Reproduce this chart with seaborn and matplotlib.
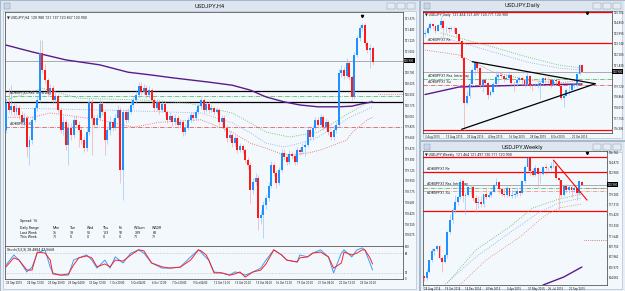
import numpy as np
import matplotlib
matplotlib.use("Agg")
import matplotlib.pyplot as plt
import matplotlib.transforms as mtransforms
from matplotlib.patches import Rectangle
import seaborn as sns

sns.set_style("white")
plt.rcParams["font.family"] = ["Roboto", "DejaVu Sans"]

W, H = 625, 291

# ---------------------------------------------------------------- H4 data
h4_first_open = 119.77
h4_close = [
    120.21, 120.10, 120.16, 120.07, 120.13, 120.02, 119.90, 119.97, 119.50, 119.61,
    119.94, 120.13, 120.26, 121.02, 120.75, 120.58, 120.39, 120.45, 120.26, 120.32,
    120.10, 119.77, 119.90, 119.53, 119.81, 119.69, 119.94, 119.86, 119.77, 119.61,
    119.48, 119.74, 120.23, 119.97, 119.86, 119.97, 120.20, 120.07, 119.61, 119.77,
    119.90, 119.81, 119.97, 120.10, 119.13, 120.07, 119.94, 120.07, 120.18, 120.26,
    120.34, 120.49, 120.39, 120.45, 120.34, 120.42, 120.26, 120.13, 120.23, 120.10,
    120.20, 120.07, 119.94, 120.00, 119.90, 119.97, 119.86, 119.90, 119.74, 119.81,
    119.94, 120.02, 119.97, 120.07, 120.16, 120.26, 120.10, 120.20, 120.10, 120.13,
    120.07, 120.10, 119.90, 119.97, 119.81, 119.64, 119.69, 119.56, 119.64, 119.45,
    119.51, 119.45, 119.29, 119.21, 118.80, 118.93, 119.00, 118.35, 118.40, 118.56,
    118.67, 118.87, 119.21, 119.08, 118.92, 119.13, 119.40, 119.34, 119.26, 119.39,
    119.35, 119.26, 119.45, 119.42, 119.50, 119.53, 119.77, 119.66, 119.81, 119.94,
    119.86, 119.98, 119.82, 119.90, 119.74, 119.66, 119.77, 119.86, 120.70, 120.75,
    120.65, 120.86, 120.63, 120.31, 120.99, 121.26, 121.43, 121.48, 121.18, 121.07,
    121.10, 120.88]
h4_high = [
    120.30, 120.45, 120.50, 120.22, 120.20, 120.18, 120.08, 120.05, 120.01, 119.68,
    120.00, 120.18, 120.32, 121.23, 121.23, 120.85, 120.62, 120.52, 120.50, 120.40,
    120.36, 120.14, 120.00, 119.95, 119.88, 119.88, 120.00, 120.02, 119.92, 119.82,
    119.66, 119.80, 120.30, 120.27, 120.02, 120.03, 120.28, 120.25, 120.10, 119.83,
    120.00, 119.95, 120.03, 120.18, 120.15, 120.12, 120.12, 120.13, 120.24, 120.31,
    120.40, 120.56, 120.55, 120.52, 120.50, 120.48, 120.46, 120.30, 120.28, 120.27,
    120.26, 120.24, 120.10, 120.06, 120.04, 120.03, 120.01, 119.96, 119.94, 119.87,
    119.99, 120.07, 120.06, 120.12, 120.21, 120.31, 120.30, 120.25, 120.24, 120.19,
    120.17, 120.15, 120.13, 120.02, 120.01, 119.85, 119.75, 119.73, 119.70, 119.68,
    119.57, 119.55, 119.49, 119.33, 119.25, 119.00, 119.08, 119.04, 118.48, 118.62,
    118.73, 118.93, 119.27, 119.25, 119.12, 119.18, 119.46, 119.47, 119.39, 119.45,
    119.44, 119.40, 119.50, 119.50, 119.56, 119.60, 119.82, 119.80, 119.86, 119.99,
    119.98, 120.04, 120.02, 119.95, 119.94, 119.78, 119.82, 119.92, 120.76, 120.82,
    120.80, 120.94, 120.90, 120.66, 121.04, 121.31, 121.47, 121.51, 121.50, 121.22,
    121.16, 121.14]
h4_low = [
    119.72, 120.05, 120.02, 120.00, 120.02, 119.96, 119.85, 119.84, 119.34, 119.21,
    119.55, 119.90, 120.08, 120.22, 120.70, 120.52, 120.33, 120.34, 120.20, 120.22,
    120.05, 119.72, 119.70, 119.45, 119.21, 119.62, 119.65, 119.80, 119.50, 119.55,
    119.42, 119.44, 119.70, 119.37, 119.80, 119.81, 119.93, 120.02, 119.37, 119.55,
    119.70, 119.75, 119.77, 119.93, 118.92, 118.64, 119.88, 119.90, 120.03, 120.13,
    120.21, 120.30, 120.34, 120.35, 120.29, 120.30, 120.21, 120.08, 120.09, 120.04,
    120.06, 120.02, 119.88, 119.90, 119.84, 119.86, 119.80, 119.82, 119.68, 119.70,
    119.77, 119.90, 119.92, 119.93, 120.03, 120.12, 120.05, 120.06, 120.05, 120.06,
    120.02, 120.03, 119.85, 119.86, 119.75, 119.58, 119.60, 119.50, 119.52, 119.40,
    119.41, 119.40, 119.24, 119.15, 118.59, 118.74, 118.88, 118.15, 118.25, 118.02,
    118.50, 118.62, 118.83, 119.03, 118.83, 118.88, 119.10, 119.29, 119.21, 119.22,
    119.30, 119.21, 119.23, 119.37, 119.38, 119.36, 119.50, 119.61, 119.62, 119.77,
    119.81, 119.82, 119.77, 119.78, 119.70, 119.61, 119.62, 119.72, 119.83, 120.64,
    120.60, 120.62, 120.58, 120.26, 120.28, 120.95, 121.22, 121.38, 121.13, 121.02,
    120.78, 120.83]
h4_dates = ["23 Sep 2015", "24 Sep 12:00", "25 Sep 20:00", "29 Sep 04:00", "30 Sep 12:00",
            "1 Oct 20:00", "5 Oct 04:00", "6 Oct 12:00", "7 Oct 20:00", "9 Oct 04:00",
            "12 Oct 12:00", "13 Oct 20:00", "15 Oct 04:00", "16 Oct 12:00", "19 Oct 20:00",
            "21 Oct 04:00", "22 Oct 12:00", "23 Oct 20:00"]

# H4 indicator lines (bar index, price)
h4_ma_idx = [0, 10, 23, 36, 47, 55, 64, 78, 87, 94, 100, 107, 113, 120, 128, 133, 137, 141]
h4_ma_val = [121.15, 121.04, 120.91, 120.83, 120.71, 120.67, 120.62, 120.55, 120.50, 120.42,
             120.31, 120.23, 120.18, 120.15, 120.15, 120.16, 120.20, 120.23]
h4_grn_idx = [0, 14, 28, 52, 70, 87, 94, 100, 109, 120, 126, 132, 141]
h4_grn_val = [120.26, 120.45, 120.29, 120.26, 120.21, 120.05, 119.89, 119.74, 119.66, 119.74,
              119.89, 120.05, 120.26]
h4_blu_idx = [0, 36, 75, 87, 94, 100, 107, 113, 120, 126, 132, 141]
h4_blu_val = [120.13, 120.10, 120.05, 119.89, 119.73, 119.56, 119.50, 119.56, 119.66, 119.82,
              119.97, 120.15]
h4_red_idx = [0, 10, 17, 36, 49, 59, 75, 87, 94, 100, 105, 110, 116, 121, 126, 131, 133, 139, 141]
h4_red_val = [119.98, 119.98, 120.05, 119.94, 119.82, 119.90, 119.94, 119.74, 119.56, 119.48,
              119.40, 119.37, 119.40, 119.45, 119.53, 119.61, 119.73, 119.94, 119.98]

# Stochastic (5,3,3)
st_idx = [0, 3, 5, 8, 10, 12, 15, 17, 18, 21, 24, 26, 28, 31, 33, 35, 38, 40, 42, 45, 48, 51,
          53, 56, 60, 63, 67, 71, 74, 75, 77, 78, 80, 83, 86, 88, 90, 92, 95, 98, 100, 103, 106,
          108, 112, 113, 116, 118, 121, 124, 126, 129, 130, 133, 135, 137, 138, 140, 141]
st_k = [44, 75, 59, 22, 37, 81, 91, 37, 19, 12, 12, 59, 66, 75, 59, 34, 59, 34, 69, 50, 81, 91,
        81, 50, 34, 34, 37, 69, 91, 84, 66, 59, 22, 19, 12, 22, 19, 12, 22, 34, 59, 91, 75,
        59, 53, 75, 69, 81, 91, 69, 19, 81, 91, 69, 91, 97, 91, 50, 28]
st_d = [38, 66, 59, 28, 28, 84, 81, 59, 16, 12, 16, 44, 66, 72, 66, 38, 47, 38, 59, 56, 75, 91,
        88, 50, 38, 34, 37, 59, 91, 88, 75, 59, 19, 19, 12, 16, 22, 6, 22, 28, 47, 91, 75,
        59, 53, 66, 69, 81, 84, 69, 34, 50, 84, 75, 81, 91, 91, 66, 47]

# ------------------------------------------------------------- Daily data
d1_first_open = 123.90
d1_close = [
    124.05, 124.45, 124.75, 124.60, 124.20, 124.65, 125.00, 124.40, 124.45, 124.30,
    124.45, 124.40, 123.90, 123.40, 122.00, 118.40, 118.90, 119.90, 121.00, 121.70,
    121.20, 119.80, 120.25, 120.00, 119.00, 119.25, 119.90, 120.50, 120.60, 120.55,
    120.30, 120.40, 120.60, 120.00, 119.95, 120.25, 120.40, 120.20, 119.90, 120.55,
    119.85, 119.75, 119.85, 119.90, 119.95, 120.35, 120.25, 120.20, 119.80, 120.20,
    120.15, 119.75, 118.80, 118.90, 119.40, 119.45, 119.80, 119.90, 120.70, 121.45,
    120.90]
d1_high = [
    124.25, 124.55, 124.90, 124.80, 124.65, 124.75, 125.28, 125.05, 124.60, 124.50,
    124.60, 124.55, 124.45, 123.95, 123.45, 122.05, 119.35, 120.20, 121.20, 121.75,
    121.75, 121.30, 120.30, 120.40, 120.05, 119.40, 120.10, 120.95, 120.95, 120.85,
    120.65, 120.70, 120.85, 120.70, 120.15, 120.30, 120.55, 120.50, 120.30, 120.95,
    120.60, 120.00, 120.00, 120.25, 120.25, 120.40, 120.45, 120.55, 120.35, 120.30,
    120.30, 120.20, 119.80, 119.20, 119.55, 119.80, 119.85, 120.00, 120.75, 121.49,
    121.50]
d1_low = [
    123.70, 123.95, 124.35, 124.35, 124.00, 124.15, 124.45, 123.80, 124.00, 124.05,
    124.20, 124.10, 123.70, 123.20, 121.85, 116.18, 118.25, 118.80, 119.80, 120.60,
    120.90, 119.60, 119.25, 119.85, 118.70, 118.90, 119.15, 119.80, 119.95, 120.35,
    120.10, 120.20, 120.25, 119.85, 119.30, 119.75, 120.10, 119.85, 119.65, 119.75,
    119.60, 119.35, 119.70, 119.60, 118.70, 119.80, 120.00, 119.95, 119.55, 119.70,
    119.90, 119.65, 118.60, 118.07, 118.90, 119.05, 119.30, 119.60, 119.65, 120.60,
    120.85]
d1_dates = ["3 Aug 2015", "13 Aug 2015", "25 Aug 2015", "4 Sep 2015", "16 Sep 2015",
            "28 Sep 2015", "8 Oct 2015", "20 Oct 2015"]
d1_ma_idx = [0, 13, 26, 40, 60]
d1_ma_val = [119.05, 119.66, 119.74, 119.82, 119.90]
d1_grn_idx = [6, 13, 26, 39, 51, 60]
d1_grn_val = [124.01, 123.61, 122.88, 122.08, 121.43, 121.19]
d1_blu_idx = [6, 13, 26, 39, 51, 60]
d1_blu_val = [123.69, 123.29, 122.48, 121.67, 121.19, 121.03]
d1_red_idx = [0, 13, 26, 39, 51, 60]
d1_red_val = [122.64, 122.24, 120.87, 120.22, 119.98, 120.22]
d1_tri_upper_idx = [18, 65]
d1_tri_upper_val = [121.70, 119.92]
d1_tri_lower_idx = [14, 65]
d1_tri_lower_val = [116.25, 119.92]

# ------------------------------------------------------------ Weekly data
w1_first_open = 104.40
w1_close = [
    104.10, 105.10, 107.35, 109.00, 109.25, 109.75, 107.70, 106.90, 108.15, 112.30,
    114.60, 116.30, 117.75, 118.60, 121.45, 118.80, 119.05, 120.40, 120.50, 118.50,
    117.55, 117.70, 117.45, 119.15, 118.75, 119.00, 119.60, 120.80, 121.40, 120.05,
    119.15, 118.95, 120.20, 118.90, 118.95, 119.20, 119.75, 119.30, 121.55, 124.10,
    125.60, 123.40, 122.65, 123.90, 122.80, 122.80, 124.05, 123.80, 123.85, 124.20,
    124.30, 122.00, 121.70, 119.00, 120.60, 120.00, 120.55, 119.90, 120.20, 119.40,
    121.45, 120.90]
w1_high = [
    104.50, 105.70, 107.40, 109.45, 109.45, 110.10, 110.00, 108.00, 108.35, 112.50,
    115.60, 116.70, 118.95, 118.85, 121.85, 121.65, 119.55, 120.85, 120.75, 120.80,
    119.10, 118.85, 118.85, 119.25, 120.50, 119.60, 119.85, 120.95, 122.05, 121.55,
    120.30, 120.30, 120.85, 120.35, 119.85, 120.00, 120.20, 120.00, 121.60, 124.45,
    125.86, 125.70, 123.80, 124.45, 124.00, 123.05, 124.30, 124.55, 124.00, 125.05,
    125.28, 124.55, 122.10, 121.75, 121.05, 120.95, 120.90, 120.70, 120.60, 120.30,
    121.49, 121.50]
w1_low = [
    103.50, 103.80, 104.90, 106.90, 108.30, 108.90, 107.50, 105.20, 106.70, 107.65,
    112.00, 113.90, 115.80, 117.20, 118.25, 117.70, 115.57, 118.90, 119.10, 118.00,
    115.85, 116.75, 116.90, 116.90, 118.30, 118.40, 118.60, 119.50, 120.65, 119.30,
    118.85, 118.70, 118.70, 118.85, 118.55, 118.50, 118.90, 118.80, 119.20, 121.20,
    123.40, 122.45, 122.45, 122.50, 120.40, 121.20, 122.60, 123.50, 123.25, 123.60,
    123.95, 121.90, 116.18, 118.60, 118.90, 119.30, 119.40, 118.70, 119.60, 118.07,
    119.10, 120.85]
w1_dates = ["24 Aug 2014", "19 Oct 2014", "14 Dec 2014", "8 Feb 2015", "5 Apr 2015",
            "31 May 2015", "26 Jul 2015", "20 Sep 2015"]
w1_grn_idx = [9, 20, 33, 42, 51, 59, 61]
w1_grn_val = [103.18, 109.12, 113.26, 116.68, 118.12, 119.02, 119.20]
w1_blu_idx = [7, 20, 33, 44, 52, 61]
w1_blu_val = [102.46, 107.86, 112.18, 115.78, 117.58, 118.48]
w1_red_idx = [13, 24, 37, 46, 52, 61]
w1_red_val = [102.46, 107.32, 111.46, 115.06, 116.68, 117.40]
w1_ma_idx = [46, 54, 61]
w1_ma_val = [102.82, 104.26, 106.06]
w1_trend_idx = [50, 63]
w1_trend_val = [125.30, 118.10]

# price levels shared by the windows
bid = 120.90
res_levels = [125.86, 123.18, 116.18]
box_top, box_bot = 120.41, 120.23
res_intraday = 120.32
sup_intraday = 119.82

# ---------------------------------------------------------------- styling
BULL, BEAR = "#1e90ff", "#ff1a1a"
BULL_W, BEAR_W = "#8cc4ff", "#f5a3a3"
BG = "#f3f8fd"
PURPLE = "#5b1a8c"
TXT = dict(fontsize=2.6, color="#222222")
AXFS = 2.05


def px_box(x0, y0, x1, y1):
    return [x0 / W, 1 - y1 / H, (x1 - x0) / W, (y1 - y0) / H]


def frame(x0, y0, x1, y1, fc, ec="none", lw=0.5, z=0):
    fig.add_artist(Rectangle((x0 / W, 1 - y1 / H), (x1 - x0) / W, (y1 - y0) / H,
                             transform=fig.transFigure, facecolor=fc, edgecolor=ec,
                             linewidth=lw, zorder=z))


def window(x0, y0, x1, y1, title):
    frame(x0, y0, x1, y1, "#e9eff6", ec="#9fb0c4", lw=0.6)
    frame(x0 + 1, y0 + 1, x1 - 1, y0 + 11, "#dde6f0")
    frame(x0 + 3, y0 + 11, x1 - 3, y1 - 2, BG, ec="#a7b4c4", lw=0.4)
    fig.text((x0 + x1) / 2 / W, 1 - (y0 + 6) / H, title, ha="center", va="center",
             fontsize=4.2, color="#1a1a1a")
    frame(x0 + 4, y0 + 3, x0 + 10, y0 + 9, "#c7d5e6", ec="#7f93ab", lw=0.3)
    for k in range(3):
        bx = x1 - 32 + k * 10
        frame(bx, y0 + 3, bx + 8, y0 + 9, "#e4ebf3", ec="#7f93ab", lw=0.3)


def candles(ax, first_open, close, high, low, width, lw):
    close, high, low = map(np.asarray, (close, high, low))
    opn = np.r_[first_open, close[:-1]]
    x = np.arange(len(close))
    up = close >= opn
    ax.vlines(x, low, high, colors=np.where(up, BULL_W, BEAR_W), linewidth=lw, zorder=3)
    span = high.max() - low.min()
    ax.bar(x, np.maximum(np.abs(close - opn), span * 0.004), bottom=np.minimum(opn, close),
           width=width, color=np.where(up, BULL, BEAR), linewidth=0, zorder=4)


def line(ax, idx, val, color, ls, lw, z=2):
    sns.lineplot(x=idx, y=val, ax=ax, color=color, linestyle=ls, linewidth=lw,
                 zorder=z, legend=False, sort=False)


def style_chart(ax, xlim, ylim, yticks, fmt, dates, step, skip=None):
    ax.set_facecolor(BG)
    ax.set_xlim(*xlim)
    ax.set_ylim(*ylim)
    for s in ax.spines.values():
        s.set_color("#3a3a3a")
        s.set_linewidth(0.5)
    ax.yaxis.tick_right()
    ticks = [t for t in yticks if skip is None or abs(t - skip) > (yticks[0] - yticks[1]) * 0.5]
    ax.set_yticks(ticks)
    ax.set_yticklabels([fmt.format(t) for t in ticks])
    ax.tick_params(axis="y", labelsize=AXFS, length=0.8, width=0.3, pad=0.4, colors="#222222")
    if dates is None:
        ax.set_xticks([])
    else:
        ax.set_xticks(np.arange(len(dates)) * step)
        ax.set_xticklabels(dates)
        for t in ax.get_xticklabels():
            t.set_ha("left")
        ax.tick_params(axis="x", labelsize=AXFS, length=0.8, width=0.3, pad=0.5,
                       colors="#222222")
    ax.set_xlabel("")
    ax.set_ylabel("")


def bid_box(ax, value, fmt):
    tr = mtransforms.blended_transform_factory(ax.transAxes, ax.transData)
    ax.axhline(value, color="#8c8c8c", linewidth=0.5, zorder=1)
    ax.text(1.003, value, fmt.format(value), transform=tr, ha="left", va="center",
            fontsize=AXFS, color="white", clip_on=False,
            bbox=dict(boxstyle="square,pad=0.12", facecolor="black", edgecolor="none"))


def shift_mark(ax, idx):
    tr = mtransforms.blended_transform_factory(ax.transData, ax.transAxes)
    ax.plot([idx], [0.985], marker="v", markersize=1.6, color="black", transform=tr,
            clip_on=False, zorder=6)


fig = plt.figure(figsize=(W / 100, H / 100), dpi=100)
fig.patch.set_facecolor("#cdd7e3")

window(0, 0, 419, 291, "USDJPY,H4")
window(420, 0, 625, 140, "USDJPY,Daily")
window(420, 141, 625, 291, "USDJPY,Weekly")

# ------------------------------------------------------------------ H4 main
ax = fig.add_axes(px_box(5, 12, 403, 246))
ax.axhline(box_top, color="black", linewidth=0.9, zorder=2)
ax.axhline(box_bot, color="black", linewidth=0.9, zorder=2)
ax.axhline(res_intraday, color="#3cb44b", linewidth=0.5, linestyle="-.", zorder=2)
ax.axhline(sup_intraday, color="#e04040", linewidth=0.5, linestyle="-.", zorder=2)
ax.hlines(120.36, 143, 153, color="#e04040", linewidth=0.5, linestyle=":", zorder=2)
line(ax, h4_grn_idx, h4_grn_val, "#5cb85c", ":", 0.6)
line(ax, h4_blu_idx, h4_blu_val, "#8aa6e6", ":", 0.6)
line(ax, h4_red_idx, h4_red_val, "#e06060", ":", 0.6)
line(ax, h4_ma_idx, h4_ma_val, PURPLE, "-", 1.0)
candles(ax, h4_first_open, h4_close, h4_high, h4_low, 0.72, 0.45)
h4_ticks = [121.575 - k * 0.175 for k in range(21)]
style_chart(ax, (-0.4, 152.7), (117.895, 121.686), h4_ticks, "{:.3f}", None, 8, skip=bid)
bid_box(ax, bid, "{:.3f}")
shift_mark(ax, 137)
ax.text(0.006, 0.985, "\u25bc USDJPY,H4  120.980 121.137 120.837 120.900", transform=ax.transAxes,
        ha="left", va="top", **TXT)
ax.text(1.5, res_intraday + 0.02, "#DBSPFX1 Res. Intra-Day", ha="left", va="bottom", **TXT)
ax.text(1.5, sup_intraday + 0.02, "#DBSPFX1 Su", ha="left", va="bottom", **TXT)

cols_x = [0.038, 0.12, 0.163, 0.205, 0.245, 0.285, 0.325, 0.37]
rows = [["Daily Range", "Mon", "Tue", "Wed", "Thu", "Fri", "W.Sum", "WADR"],
        ["Last Week", "36", "33", "55", "123", "92", "339", "68"],
        ["This Week", "71", "0", "0", "0", "0", "71", "71"]]
ax.text(cols_x[0], 0.108, "Spread: 16", transform=ax.transAxes, ha="left", va="center", **TXT)
for r, row in enumerate(rows):
    for c, cell in enumerate(row):
        ax.text(cols_x[c], 0.075 - r * 0.018, cell, transform=ax.transAxes, ha="left",
                va="center", **TXT)

# ----------------------------------------------------------------- H4 stoch
axs = fig.add_axes(px_box(5, 246, 403, 279))
axs.axhline(80, color="#9a9a9a", linewidth=0.4, linestyle=":")
axs.axhline(20, color="#9a9a9a", linewidth=0.4, linestyle=":")
line(axs, st_idx, st_k, "#3b9cff", "-", 0.7, z=3)
line(axs, st_idx, st_d, "#ff2020", "-", 0.7, z=4)
style_chart(axs, (-0.4, 152.7), (0, 103), [100, 80, 20, 0], "{:.0f}", h4_dates, 8)
axs.text(0.006, 0.96, "Stoch(5,3,3) 28.4884 47.0668", transform=axs.transAxes, ha="left",
         va="top", **TXT)

# -------------------------------------------------------------------- Daily
axd = fig.add_axes(px_box(423, 11, 612, 133))
for lv in res_levels:
    axd.axhline(lv if lv < 125.7 else 125.72, color="#ff0000", linewidth=0.9, zorder=2)
axd.axhline(res_intraday, color="#3cb44b", linewidth=0.5, linestyle="-.", zorder=2)
axd.axhline(sup_intraday, color="#e04040", linewidth=0.5, linestyle="-.", zorder=2)
line(axd, d1_grn_idx, d1_grn_val, "#5cb85c", ":", 0.6)
line(axd, d1_blu_idx, d1_blu_val, "#8aa6e6", ":", 0.6)
line(axd, d1_red_idx, d1_red_val, "#e06060", ":", 0.6)
line(axd, d1_ma_idx, d1_ma_val, PURPLE, "-", 1.0)
candles(axd, d1_first_open, d1_close, d1_high, d1_low, 0.72, 0.45)
line(axd, d1_tri_upper_idx, d1_tri_upper_val, "black", "-", 0.9, z=5)
line(axd, d1_tri_lower_idx, d1_tri_lower_val, "black", "-", 0.9, z=5)
d1_ticks = [125.705 - k * 0.855 for k in range(12)]
style_chart(axd, (-0.76, 71.4), (115.95, 125.786), d1_ticks, "{:.3f}", d1_dates, 8, skip=bid)
bid_box(axd, bid, "{:.3f}")
shift_mark(axd, 62)
axd.text(0.01, 0.985, "\u25bc USDJPY,Daily  121.464 121.497 120.771 120.900",
         transform=axd.transAxes, ha="left", va="top", **TXT)
axd.text(1.0, 123.25, "#DBSPFX1 Re", ha="left", va="bottom", **TXT)
axd.text(1.0, res_intraday + 0.08, "#DBSPFX1 Res. Intra-Day", ha="left", va="bottom", **TXT)
axd.text(1.0, sup_intraday + 0.08, "#DBSPFX1 Su", ha="left", va="bottom", **TXT)

# ------------------------------------------------------------------- Weekly
axw = fig.add_axes(px_box(423, 151, 607, 285))
for lv in res_levels:
    axw.axhline(lv, color="#ff0000", linewidth=0.9, zorder=2)
axw.axhline(res_intraday, color="#3cb44b", linewidth=0.5, linestyle="-.", zorder=2)
axw.axhline(sup_intraday, color="#f08080", linewidth=0.5, linestyle="-.", zorder=2)
axw.hlines(120.36, 62, 70.7, color="#e04040", linewidth=0.5, linestyle=":", zorder=2)
axw.hlines(110.92, 62, 70.7, color="#c03030", linewidth=0.5, linestyle=":", zorder=2)
line(axw, w1_grn_idx, w1_grn_val, "#5cb85c", ":", 0.6)
line(axw, w1_blu_idx, w1_blu_val, "#8aa6e6", ":", 0.6)
line(axw, w1_red_idx, w1_red_val, "#e08080", ":", 0.6)
line(axw, w1_ma_idx, w1_ma_val, PURPLE, "-", 1.0)
candles(axw, w1_first_open, w1_close, w1_high, w1_low, 0.72, 0.45)
line(axw, w1_trend_idx, w1_trend_val, "#ff0000", "-", 0.8, z=5)
w1_ticks = [126.76 - k * 1.89 for k in range(13)]
style_chart(axw, (-0.4, 70.7), (102.82, 126.94), w1_ticks, "{:.3f}", w1_dates, 8, skip=bid)
bid_box(axw, bid, "{:.3f}")
shift_mark(axw, 63)
axw.text(0.01, 0.985, "\u25bc USDJPY,Weekly  121.464 121.497 120.771 120.900",
         transform=axw.transAxes, ha="left", va="top", **TXT)
axw.text(1.0, 123.35, "#DBSPFX1 Re", ha="left", va="bottom", **TXT)
axw.text(1.0, res_intraday + 0.25, "#DBSPFX1 Res. Intra-Day", ha="left", va="bottom", **TXT)
axw.text(1.0, sup_intraday - 0.1, "#DBSPFX1 Su", ha="left", va="top", **TXT)

fig.savefig("out.png", dpi=100, facecolor=fig.get_facecolor())
